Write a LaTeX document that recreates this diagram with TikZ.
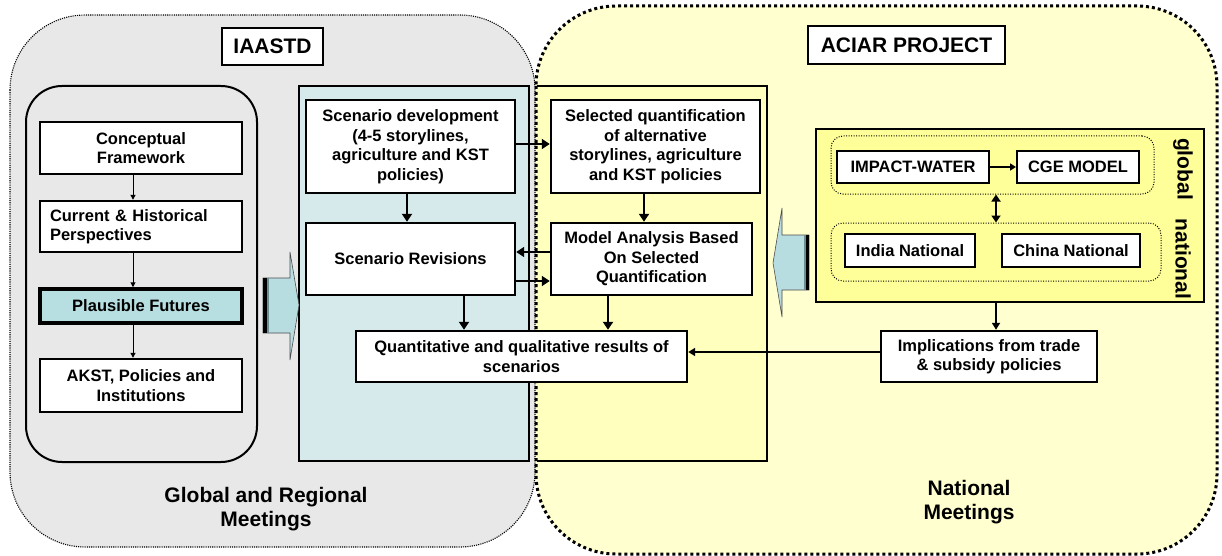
\documentclass[tikz,border=0pt]{standalone}
\usepackage{fontspec}
\setmainfont{Liberation Sans}
\usetikzlibrary{arrows.meta,calc}
\newcommand\boxfont{\fontsize{16.5}{19.5}\selectfont\bfseries}
\newcommand\bigfont{\fontsize{21}{24.5}\selectfont\bfseries}
\definecolor{graybg}{HTML}{E8E8E8}
\definecolor{yelbg}{HTML}{FFFFCF}
\definecolor{yelin}{HTML}{FFFFBE}
\definecolor{natbg}{HTML}{FFFF99}
\definecolor{bluebg}{HTML}{D6EAEB}
\definecolor{plaus}{HTML}{B7DEE0}
\definecolor{arrblue}{HTML}{B8DDE1}
\definecolor{slate}{HTML}{6C8F95}
\tikzset{
  bx/.style={draw, line width=2.4pt, fill=white, inner sep=1pt, align=center, font=\boxfont},
  sbx/.style={draw, line width=2pt, fill=white, inner sep=1pt, align=center, font=\boxfont},
  lbl/.style={draw, line width=2.4pt, fill=white, inner sep=1pt, font=\bigfont},
  txt/.style={align=center, font=\bigfont, inner sep=0pt},
  thinarr/.style={line width=1pt, -{Triangle[length=5pt,width=5pt]}},
  thkarr/.style={line width=2.5pt, -{Triangle[length=8pt,width=10pt]}},
  medarr/.style={line width=2pt, -{Triangle[length=7pt,width=8pt]}},
  dblarr/.style={line width=2pt, {Triangle[length=7pt,width=9pt]}-{Triangle[length=7pt,width=9pt]}},
  fineDots/.style={line width=1.1pt, dash pattern=on 1.1pt off 1.1pt},
  bigDots/.style={line width=3pt, dash pattern=on 3pt off 3pt},
  groupDots/.style={line width=1pt, dash pattern=on 1pt off 1.5pt},
  bigarrow/.style={fill=arrblue, draw=black!70, line width=0.6pt}
}
\begin{document}
\begin{tikzpicture}[x=1pt,y=-1pt]
\useasboundingbox (0,0) rectangle (1222,556);
% outer regions
\draw[fineDots, fill=graybg, rounded corners=75pt] (10,15) rectangle (535,547);
\draw[bigDots, fill=yelbg, rounded corners=80pt] (536,6) rectangle (1217,554);
% left inner rounded box
\draw[line width=2pt, rounded corners=36pt] (26,86) rectangle (257,462);
% central panels
\draw[line width=2.5pt, fill=bluebg] (299,86) rectangle (529,461);
\fill[yelin] (538,86) rectangle (767,461);
\draw[line width=2.5pt] (537,86) -- (767,86) -- (767,461) -- (537,461);
% national panel
\draw[line width=2pt, fill=natbg] (816,129) rectangle (1204,302);
\node[groupDots, draw, rounded corners=12pt, minimum width=323pt, minimum height=58pt, inner sep=0pt] (glob) at (992.5,165) {};
\node[groupDots, draw, rounded corners=12pt, minimum width=330pt, minimum height=58pt, inner sep=0pt] (natl) at (996,252) {};

% big arrows
\draw[bigarrow] (263,278) -- (290,278) -- (290,252) -- (299,305) -- (290,360) -- (290,333) -- (263,333) -- cycle;
\fill[black] (263,278) rectangle (266.5,333);
\fill[slate] (266.5,278) rectangle (268.5,333);
\draw[bigarrow] (809,235) -- (782,235) -- (782,208) -- (773,263) -- (782,317) -- (782,290) -- (809,290) -- cycle;
\fill[black] (805.5,235) rectangle (809,290);
\fill[slate] (803.5,235) rectangle (805.5,290);

% labels
\node[lbl, minimum width=101pt, minimum height=37pt, inner sep=0pt] (iaastd) at (272.5,46.5) {IAASTD};
\node[lbl, minimum width=197pt, minimum height=38pt, inner sep=0pt] (aciar) at (906.5,45) {ACIAR PROJECT};

% left column
\node[bx, minimum width=202pt, minimum height=52pt] (cf) at (141,148) {Conceptual\\Framework};
\node[bx, minimum width=202pt, minimum height=51pt, text width=182pt, align=left] (ch) at (141,226.5) {Current \& Historical\\Perspectives};
\node[bx, line width=3.5pt, fill=plaus, minimum width=202pt, minimum height=34pt] (pf) at (141,306) {Plausible Futures};
\node[bx, minimum width=202pt, minimum height=53pt] (akst) at (141,385.5) {AKST, Policies and\\Institutions};

% central boxes
\node[bx, minimum width=209pt, minimum height=93pt] (sd) at (410.5,146.5) {Scenario development\\(4-5 storylines,\\agriculture and KST\\policies)};
\node[bx, minimum width=209pt, minimum height=72pt] (sr) at (410.5,259) {Scenario Revisions};
\node[bx, minimum width=209pt, minimum height=93pt] (sq) at (655.5,146.5) {Selected quantification\\of alternative\\storylines, agriculture\\and KST policies};
\node[bx, minimum width=201pt, minimum height=72pt] (ma) at (651.5,259) {Model Analysis Based\\On Selected\\Quantification};
\node[bx, minimum width=331pt, minimum height=51pt] (qr) at (521.5,356.5) {Quantitative and qualitative results of\\scenarios};
\node[bx, minimum width=216pt, minimum height=51pt] (imp) at (989,356.5) {Implications from trade\\\& subsidy policies};

% national inner boxes
\node[sbx, minimum width=152pt, minimum height=32pt] (iw) at (913,167) {IMPACT-WATER};
\node[sbx, minimum width=122pt, minimum height=32pt] (cge) at (1078,167) {CGE MODEL};
\node[sbx, minimum width=130pt, minimum height=33pt] (india) at (910,250.5) {India National};
\node[sbx, minimum width=138pt, minimum height=33pt] (china) at (1071,250.5) {China National};
\coordinate (natbox) at (996,302);
\node[txt, rotate=-90] (glab) at (1183,169) {global};
\node[txt, rotate=-90] (nlab) at (1183,259) {national};

% bottom texts
\node[txt] (grm) at (266,509) {Global and Regional\\Meetings};
\node[txt] (nm) at (969,502) {National\\Meetings};

% helper x coordinates
\coordinate (x133) at (133,0);
\coordinate (x407) at (407,0);
\coordinate (x644) at (644,0);
\coordinate (x464) at (464,0);
\coordinate (x608) at (608,0);
\coordinate (x996) at (996,0);
\coordinate (y144) at (0,144);
\coordinate (y252) at (0,252);
\coordinate (y281) at (0,281);
\coordinate (y352) at (0,352);

% left column arrows
\draw[thinarr] (cf.south -| x133) -- (ch.north -| x133);
\draw[thinarr] (ch.south -| x133) -- (pf.north -| x133);
\draw[thinarr] (pf.south -| x133) -- (akst.north -| x133);

% central arrows
\draw[thkarr] (sd.east |- y144) -- (sq.west |- y144);
\draw[thkarr] (sd.south -| x407) -- (sr.north -| x407);
\draw[thkarr] (sq.south -| x644) -- (ma.north -| x644);
\draw[thkarr] (ma.west |- y252) -- (sr.east |- y252);
\draw[thkarr] (sr.east |- y281) -- (ma.west |- y281);
\draw[thkarr] (sr.south -| x464) -- (qr.north -| x464);
\draw[thkarr] (ma.south -| x608) -- (qr.north -| x608);
\draw[medarr] (imp.west |- y352) -- (qr.east |- y352);
\draw[medarr] (natbox) -- (imp.north -| x996);
\draw[line width=1.6pt, -{Triangle[length=6pt,width=7pt]}] (iw) -- (cge);
\draw[dblarr] (glob.south -| x996) -- (natl.north -| x996);
\end{tikzpicture}
\end{document}
